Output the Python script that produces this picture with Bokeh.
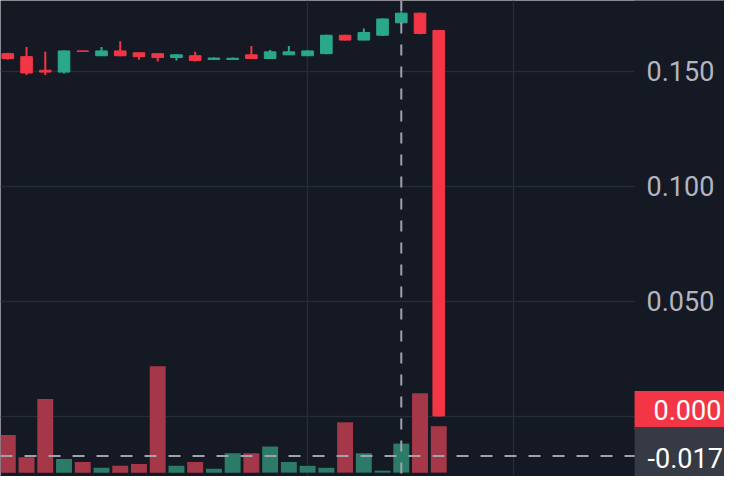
from bokeh.plotting import figure
from bokeh.models import (Range1d, LinearAxis, FixedTicker, Grid, Span, Label,
                          BoxAnnotation, ColumnDataSource)
from bokeh.embed import file_html
from bokeh.resources import INLINE

# ---- data ----
bar_index = list(range(24))
open_ = [0.1576, 0.1563, 0.1504, 0.1496, 0.1588, 0.1567, 0.1588, 0.1580, 0.1576, 0.1559,
         0.1567, 0.1551, 0.1551, 0.1571, 0.1555, 0.1571, 0.1567, 0.1576, 0.1656, 0.1635,
         0.1656, 0.1710, 0.1752, 0.1677]
high = [0.1580, 0.1605, 0.1584, 0.1590, 0.1590, 0.1605, 0.1630, 0.1580, 0.1576, 0.1571,
        0.1584, 0.1559, 0.1559, 0.1609, 0.1592, 0.1609, 0.1590, 0.1658, 0.1658, 0.1685,
        0.1729, 0.1756, 0.1754, 0.1679]
low = [0.1550, 0.1483, 0.1483, 0.1490, 0.1584, 0.1567, 0.1565, 0.1550, 0.1542, 0.1546,
       0.1542, 0.1550, 0.1550, 0.1553, 0.1554, 0.1570, 0.1566, 0.1574, 0.1633, 0.1634,
       0.1654, 0.1705, 0.1660, 0.0001]
close = [0.1555, 0.1492, 0.1496, 0.1588, 0.1586, 0.1588, 0.1567, 0.1563, 0.1559, 0.1571,
         0.1546, 0.1557, 0.1556, 0.1555, 0.1584, 0.1584, 0.1588, 0.1656, 0.1635, 0.1668,
         0.1727, 0.1752, 0.1664, 0.0002]
volume_k = [39, 16, 76, 14, 11, 5, 7, 9, 110, 7, 11, 4, 20, 20, 27, 11, 7, 5, 52, 20,
            2, 30, 82, 48]

price_ticks = [0.0, 0.05, 0.10, 0.15]
# the 0.000 tick label is hidden behind the last-price label
price_tick_labels = ["", "0.050", "0.100", "0.150"]
time_grid_ticks = [16, 27]

crosshair_bar = 21
crosshair_price = -0.0172
last_price_label = "0.000"
crosshair_price_label = "-0.017"

# ---- layout / styling ----
X_START, X_END = -0.39, 38.25      # visible bar-index window (whole pane)
SCALE_START = 33.45                # where the price scale begins
BG = "#151924"
GRID = "#262b38"
UP = "#2aa88a"
DOWN = "#f23645"
UP_VOL = "#2c7a68"
DOWN_VOL = "#a53848"
TEXT = "#b2b5be"
FONT = "Roboto"
FS = "27px"

up = [c >= o for o, c in zip(open_, close)]
src = ColumnDataSource(dict(
    x=bar_index,
    open=open_, high=high, low=low, close=close,
    top=[max(o, c) for o, c in zip(open_, close)],
    bottom=[min(o, c) for o, c in zip(open_, close)],
    color=[UP if u else DOWN for u in up],
    vol=volume_k,
    vcolor=[UP_VOL if u else DOWN_VOL for u in up],
))

p = figure(width=724, height=476,
           x_range=Range1d(X_START, X_END), y_range=Range1d(-0.0261, 0.1807),
           output_backend="svg", toolbar_location=None,
           x_axis_location=None, y_axis_location=None,
           background_fill_color=BG, border_fill_color=BG,
           outline_line_color=None, min_border=0)
p.extra_y_ranges = {"vol": Range1d(-4, 488)}

# hide any default grids
for r in list(p.center):
    if isinstance(r, Grid):
        r.visible = False

p.add_layout(Grid(dimension=1, ticker=FixedTicker(ticks=price_ticks),
                  grid_line_color=GRID, grid_line_width=1.5))
p.add_layout(Grid(dimension=0, ticker=FixedTicker(ticks=time_grid_ticks),
                  grid_line_color=GRID, grid_line_width=1.5))
# price-scale area (no grid lines behind it)
p.add_layout(BoxAnnotation(left=SCALE_START, fill_color=BG, fill_alpha=1.0,
                           line_color=None, level="underlay"))

# price scale, drawn over the right part of the pane
yax = LinearAxis(ticker=FixedTicker(ticks=price_ticks),
                 major_label_overrides=dict(zip(price_ticks, price_tick_labels)),
                 axis_line_color=None, major_tick_line_color=None,
                 minor_tick_line_color=None,
                 major_tick_in=0, major_tick_out=0,
                 major_label_text_color=TEXT,
                 major_label_text_font=FONT,
                 major_label_text_font_size=FS,
                 major_label_standoff=-78)
p.add_layout(yax, "right")

# volume
p.vbar(x="x", top="vol", bottom=0, width=0.85, source=src,
       fill_color="vcolor", line_color=None, y_range_name="vol")

# candles
p.segment(x0="x", y0="low", x1="x", y1="high", source=src,
          line_color="color", line_width=2)
p.vbar(x="x", top="top", bottom="bottom", width=0.62, source=src,
       fill_color="color", line_color="color", line_width=1)

# crosshair
p.add_layout(Span(location=crosshair_price, dimension="width",
                  line_color="#9ea2ab", line_width=2, line_dash="12 12"))
p.add_layout(Span(location=crosshair_bar, dimension="height",
                  line_color="#9ea2ab", line_width=2, line_dash="11 11"))

# price labels on the scale
p.add_layout(Label(x=SCALE_START, y=close[-1], x_units="data", y_units="data",
                   y_offset=6, text=last_price_label, text_color="#ffffff",
                   text_font=FONT, text_font_size=FS,
                   text_align="left", text_baseline="middle",
                   background_fill_color=DOWN,
                   padding=dict(left=19, right=19, top=9, bottom=9)))
p.add_layout(Label(x=SCALE_START, y=crosshair_price, x_units="data", y_units="data",
                   y_offset=-2, text=crosshair_price_label, text_color="#ffffff",
                   text_font=FONT, text_font_size=FS,
                   text_align="left", text_baseline="middle",
                   background_fill_color="#363a45",
                   padding=dict(left=13, right=13, top=21, bottom=21)))

open("out.html", "w").write(file_html(p, INLINE))
